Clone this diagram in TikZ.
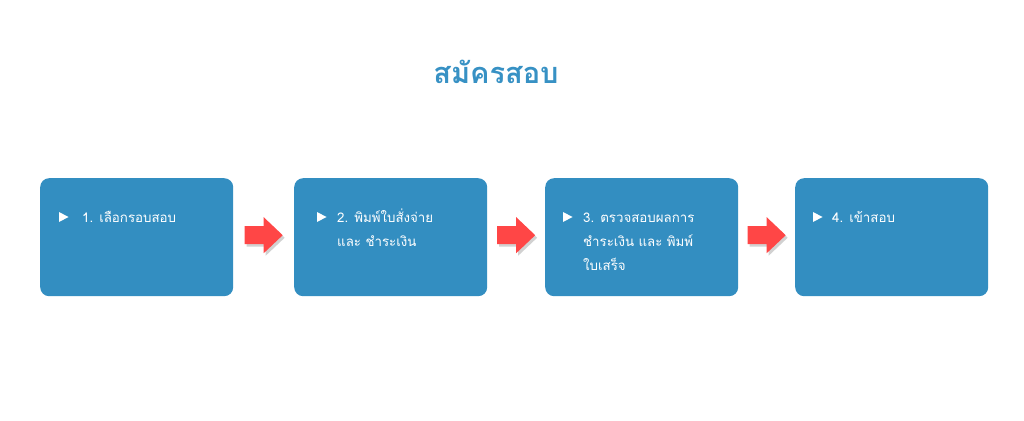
\documentclass[tikz,border=0pt]{standalone}
\usepackage{fontspec}
\newfontfamily\thaifont[Script=Thai]{Loma}
\definecolor{boxblue}{RGB}{51,142,193}
\definecolor{titleblue}{RGB}{55,145,196}
\definecolor{arrred}{RGB}{255,70,70}
\newcommand{\steplines}[1]{\vtop{\def\nl{\egroup\hbox\bgroup}\hbox\bgroup#1\egroup}}
\begin{document}
\begin{tikzpicture}[x=1pt,y=-1pt,
  stepbox/.style={fill=boxblue,draw=none,rounded corners=9pt,minimum width=193pt,minimum height=118pt,inner sep=0pt,anchor=north west},
  steptext/.style={text=white,font=\thaifont\fontsize{13.3}{24}\selectfont,anchor=base west,inner sep=0pt},
  bullet/.style={fill=white,draw=none},
  redarrow/.style={fill=arrred,draw=none},
  arrshadow/.style={fill=black,opacity=0.18,draw=none}]
\useasboundingbox (0,0) rectangle (1024,420);
\node[text=titleblue,font=\thaifont\bfseries\fontsize{29}{32}\selectfont,anchor=base] (title) at (496,83) {สมัครสอบ};
\node[stepbox] (b1) at (40,178) {};
\node[stepbox] (b2) at (294,178) {};
\node[stepbox] (b3) at (545,178) {};
\node[stepbox] (b4) at (795,178) {};
% bullets
\foreach \bx in {59,317,563,813}{
  \fill[bullet] (\bx,212) -- (\bx+9.5,217) -- (\bx,222) -- cycle;
}
\node[steptext] (t1) at (82,222) {\steplines{1. เลือกรอบสอบ}};
\node[steptext] (t2) at (337,222) {\steplines{2. พิมพ์ใบสั่งจ่าย\nl และ ชำระเงิน}};
\node[steptext] (t3) at (583,222) {\steplines{3. ตรวจสอบผลการ\nl ชำระเงิน และ พิมพ์\nl ใบเสร็จ}};
\node[steptext] (t4) at (832,222) {\steplines{4. เข้าสอบ}};
% arrows
\path (b1.east) -- (b2.west) coordinate[pos=0.5] (m1);
\path (b2.east) -- (b3.west) coordinate[pos=0.5] (m2);
\path (b3.east) -- (b4.west) coordinate[pos=0.5] (m3);
\foreach \i in {1,2,3}{
  \begin{scope}[shift={(m\i)},yshift=2pt]
    \fill[arrshadow,xshift=2pt,yshift=-2.5pt] (-19,-9) -- (0,-9) -- (0,-18) -- (19,0) -- (0,18) -- (0,9) -- (-19,9) -- cycle;
    \fill[redarrow] (-19,-9) -- (0,-9) -- (0,-18) -- (19,0) -- (0,18) -- (0,9) -- (-19,9) -- cycle;
  \end{scope}
}
\end{tikzpicture}
\end{document}
